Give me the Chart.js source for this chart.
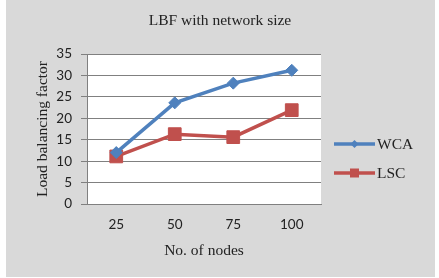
<!DOCTYPE html>
<html>
<head>
<meta charset="utf-8">
<script src="https://cdn.jsdelivr.net/npm/chart.js@4.4.1/dist/chart.umd.min.js"></script>
<style>
  html, body { margin: 0; padding: 0; background: #fff; }
  #wrap { width: 439px; height: 278px; position: relative; }
</style>
</head>
<body>
<div id="wrap"><canvas id="chart_lbf"></canvas></div>
<script>
// values
const nodeLabels = ['25', '50', '75', '100'];
const wcaValues = [12.0, 23.6, 28.2, 31.2];
const lscValues = [11.1, 16.3, 15.6, 21.9];
const seriesNames = ['WCA', 'LSC'];
const chartTitle = 'LBF with network size';

const serif = "'Liberation Serif', 'Times New Roman', serif";
const sans = "Lato, 'Noto Sans', sans-serif";
const blue = '#4f81bd';
const red = '#c0504d';

var chart_lbf = new Chart(document.getElementById('chart_lbf'), {
    type: 'line',
    data: {
        labels: nodeLabels,
        datasets: [
            {
                label: seriesNames[0],
                data: wcaValues,
                borderColor: blue,
                backgroundColor: blue,
                borderWidth: 3.5,
                pointStyle: 'rectRot',
                pointRadius: 6,
                pointBorderWidth: 1,
                tension: 0
            },
            {
                label: seriesNames[1],
                data: lscValues,
                borderColor: red,
                backgroundColor: red,
                borderWidth: 3.5,
                pointStyle: 'rect',
                pointRadius: 9,
                pointBorderWidth: 1,
                tension: 0
            }
        ]
    },
    options: {
        animation: false,
        responsive: true,
        maintainAspectRatio: false,
        layout: {
            padding: { left: 6, right: 118, top: 54, bottom: 0 }
        },
        plugins: {
            legend: { display: false },
            tooltip: { enabled: false },
            title: { display: false }
        },
        scales: {
            x: {
                offset: true,
                grid: { drawOnChartArea: false, drawTicks: false },
                border: { display: true, color: '#808080', width: 1 },
                ticks: {
                    color: '#222',
                    padding: 13,
                    font: { family: sans, size: 13.5, lineHeight: 1.2 }
                },
                title: {
                    display: true,
                    text: 'No. of nodes',
                    color: '#222',
                    font: { family: serif, size: 15.5, lineHeight: 1.2 },
                    padding: { top: 0, bottom: 17.7 }
                },
                afterFit: (scale) => { scale.height = 74; }
            },
            y: {
                min: 0,
                max: 35,
                grid: { color: '#808080', tickLength: 6, drawTicks: true },
                border: { display: true, color: '#808080', width: 1 },
                ticks: {
                    stepSize: 5,
                    color: '#222',
                    padding: 9,
                    font: { family: sans, size: 13.5 }
                },
                title: {
                    display: true,
                    text: 'Load balancing factor',
                    color: '#222',
                    font: { family: serif, size: 15.5, lineHeight: 1.2 },
                    padding: { top: 27.7, bottom: 0 }
                },
                afterFit: (scale) => { scale.width = 81; }
            }
        }
    },
    plugins: [{
        id: 'panelTitleLegend',
        beforeDraw: (chart) => {
            const ctx = chart.ctx;
            const a = chart.chartArea;
            ctx.save();
            ctx.fillStyle = '#ffffff';
            ctx.fillRect(0, 0, chart.width, chart.height);
            ctx.fillStyle = '#d9d9d9';
            ctx.fillRect(6, 0, 429, 277);
            ctx.fillStyle = '#ffffff';
            ctx.fillRect(a.left, a.top, a.right - a.left, a.bottom - a.top);
            ctx.restore();
        },
        afterDraw: (chart) => {
            const ctx = chart.ctx;
            ctx.save();
            // title, centred on the whole panel
            ctx.fillStyle = '#222';
            ctx.font = '15.5px ' + serif;
            ctx.textAlign = 'center';
            ctx.textBaseline = 'middle';
            ctx.fillText(chartTitle, 220, 21);

            const rows = [144, 173];
            chart.data.datasets.forEach((ds, i) => {
                const y = rows[i];
                ctx.strokeStyle = ds.borderColor;
                ctx.fillStyle = ds.backgroundColor;
                ctx.lineWidth = 3.5;
                ctx.beginPath();
                ctx.moveTo(334, y);
                ctx.lineTo(375, y);
                ctx.stroke();
                const cx = 354.5;
                ctx.beginPath();
                if (ds.pointStyle === 'rectRot') {
                    ctx.moveTo(cx, y - 4);
                    ctx.lineTo(cx + 4, y);
                    ctx.lineTo(cx, y + 4);
                    ctx.lineTo(cx - 4, y);
                    ctx.closePath();
                } else {
                    ctx.rect(cx - 4.5, y - 4.5, 9, 9);
                }
                ctx.fill();
                ctx.fillStyle = '#222';
                ctx.font = '15.5px ' + serif;
                ctx.textAlign = 'left';
                ctx.textBaseline = 'middle';
                ctx.fillText(ds.label, 377, y + 1);
            });
            ctx.restore();
        }
    }]
});
</script>
</body>
</html>
